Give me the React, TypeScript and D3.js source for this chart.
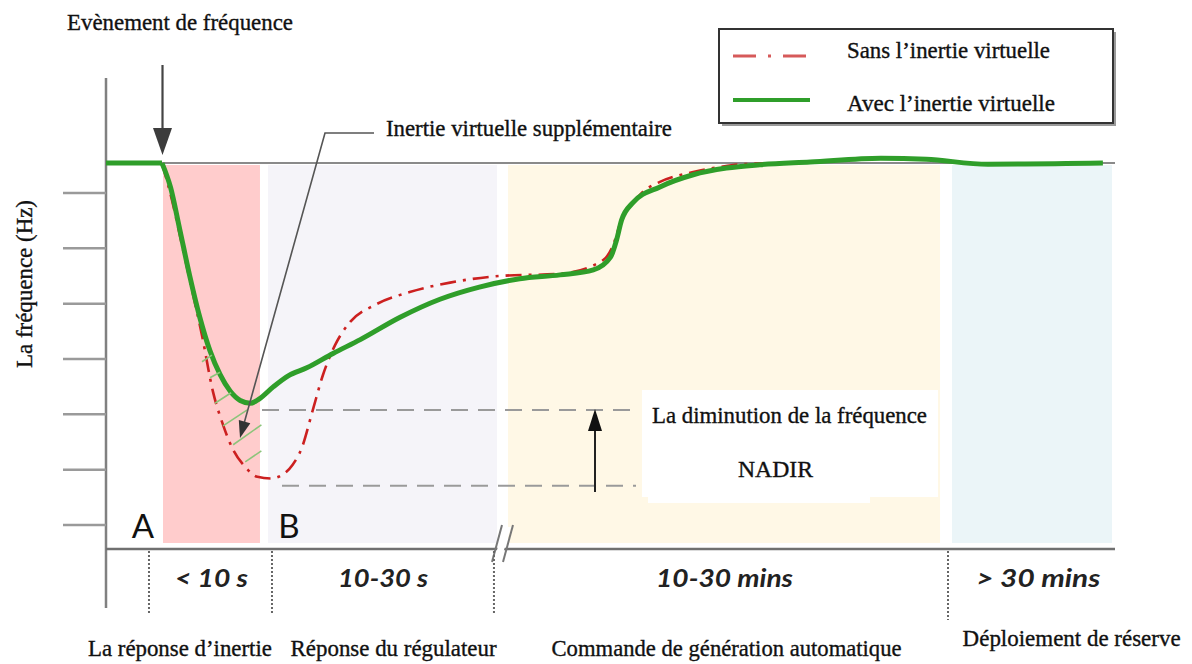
import React from 'react';
import * as d3 from 'd3';

// ---- data (time in arbitrary units 0..100, frequency in arbitrary grid units) ----
const nominalFreq = 7.54;
const eventTime = 5.6;
const preEventTime = [0, 5.55];

const timeWith = [5.55, 6.4, 7.3, 8.3, 9.3, 10.3, 11.3, 12.3, 13.3, 14.3, 15.2, 16.6, 18.1, 19.9, 22.5, 25.2, 29.1, 33.1, 37.0, 41.0, 45.0, 48.3, 50.0, 50.6, 51.1, 52.2, 54.9, 58.2, 61.5, 64.8, 69.8, 76.8, 81.3, 87.4, 98.8];
const freqWith = [7.54, 7.1, 6.35, 5.5, 4.75, 4.15, 3.72, 3.42, 3.25, 3.2, 3.28, 3.5, 3.7, 3.84, 4.1, 4.35, 4.75, 5.08, 5.3, 5.45, 5.52, 5.61, 5.84, 6.15, 6.51, 6.82, 7.11, 7.33, 7.45, 7.51, 7.56, 7.63, 7.61, 7.52, 7.54];

const timeWithout = [5.55, 6.54, 7.53, 8.52, 9.51, 10.6, 11.6, 12.6, 13.8, 15.0, 16.3, 17.5, 18.5, 19.4, 20.5, 21.5, 22.7, 24.2, 26.7, 30.1, 34.1, 39.0, 45.0, 49.3, 50.2, 51.2, 52.1, 53.2, 54.9, 58.2, 60.9, 63.1, 66.8];
const freqWithout = [7.54, 6.87, 6.06, 5.25, 4.43, 3.41, 2.81, 2.36, 2.05, 1.87, 1.84, 1.91, 2.09, 2.39, 3.08, 3.71, 4.25, 4.67, 4.98, 5.21, 5.38, 5.5, 5.54, 5.79, 6.03, 6.57, 6.79, 7.02, 7.2, 7.38, 7.47, 7.52, 7.54];

// hatch marks of the extra virtual inertia: [t1, f1, t2, f2]
const hatchMarks = [
  [9.51, 3.95, 10.5, 4.07],
  [10.3, 3.66, 11.3, 3.76],
  [10.8, 3.2, 12.4, 3.39],
  [11.6, 2.79, 14.0, 3.08],
  [12.6, 2.45, 15.4, 2.81],
  [13.8, 2.14, 15.4, 2.34],
];

const nadirWith = 3.08;
const nadirWithout = 1.71;

const yTicks = [1, 2, 3, 4, 5, 6, 7];

const phaseNames = ['La réponse d’inertie', 'Réponse du régulateur', 'Commande de génération automatique', 'Déploiement de réserve'];
const phaseDurations = ['< 10 s', '10-30 s', '10-30 mins', '> 30 mins'];
const bandStart = [5.65, 16.06, 39.84, 83.85];
const bandEnd = [15.26, 38.75, 82.66, 99.7];
const separators = [4.26, 16.45, 38.45, 83.45];
const durationCenters = [10.46, 27.45, 61.3, 92.4];
const phaseCenters = [7.33, 28.5, 61.5, 95.7];

const legendLabels = ['Sans l’inertie virtuelle', 'Avec l’inertie virtuelle'];

// ---- styles / layout ----
const bandColors = ['#FFCCCC', '#F5F4F9', '#FFF8E6', '#EBF5F8'];
const durationWidths = [73, 90, 137, 124];
const phaseWidths = [184, 206, 350, 218];
const phaseBaselines = [656, 656, 656, 646];
const GREEN = '#2f9e2a';
const RED = '#cc2020';
const SERIF = "'Liberation Serif', 'Times New Roman', serif";
const SANS = "Lato, 'Open Sans', sans-serif";
const serifStyle = { stroke: '#111', strokeWidth: 0.35 } as React.CSSProperties;

function arrowHead(tipX: number, tipY: number, fromX: number, fromY: number, len: number, half: number) {
  const dx = tipX - fromX, dy = tipY - fromY;
  const L = Math.hypot(dx, dy);
  const ux = dx / L, uy = dy / L;
  const bx = tipX - ux * len, by = tipY - uy * len;
  return `${tipX},${tipY} ${bx - uy * half},${by + ux * half} ${bx + uy * half},${by - ux * half}`;
}

export default function App() {
  const x = d3.scaleLinear().domain([0, 100]).range([106, 1115]);
  const y = d3.scaleLinear().domain([0, 8]).range([580.3, 137.66]);
  const line = d3.line<[number, number]>().x(d => x(d[0])).y(d => y(d[1])).curve(d3.curveMonotoneX);

  const greenPts = timeWith.map((t, i) => [t, freqWith[i]] as [number, number]);
  const redPts = timeWithout.map((t, i) => [t, freqWithout[i]] as [number, number]);
  const prePts = preEventTime.map(t => [t, nominalFreq] as [number, number]);

  const axisX = 106, axisRight = 1115, axisY = 549, bandTop = 165, bandBottom = 543;
  const nomY = y(nominalFreq);
  const ex = x(eventTime);

  const nadirArrowX = 595;

  return (
    <svg width={1192} height={664} style={{ position: 'absolute', left: 0, top: 0, background: '#fff' }}>
      {/* bands */}
      {bandStart.map((s, i) => (
        <rect key={'b' + i} x={x(s)} y={bandTop} width={x(bandEnd[i]) - x(s)} height={bandBottom - bandTop} fill={bandColors[i]} />
      ))}

      {/* nominal line */}
      <line x1={axisX} x2={axisRight} y1={nomY} y2={nomY} stroke="#8a8a8a" strokeWidth={2} />

      {/* y axis */}
      <line x1={axisX} x2={axisX} y1={78} y2={608} stroke="#808080" strokeWidth={2.5} />
      {yTicks.map(v => (
        <line key={'t' + v} x1={63} x2={axisX} y1={y(v)} y2={y(v)} stroke="#9a9a9a" strokeWidth={2.5} />
      ))}
      {/* x axis */}
      <line x1={axisX} x2={axisRight} y1={axisY} y2={axisY} stroke="#707070" strokeWidth={2.5} />
      {/* axis break */}
      <polygon points="494,560 504,527 511,527 501,560" fill="#fff" />
      <line x1={492} y1={562} x2={502} y2={525} stroke="#777" strokeWidth={2} />
      <line x1={503} y1={562} x2={513} y2={525} stroke="#777" strokeWidth={2} />

      {/* separators */}
      {separators.map((s, i) => (
        <line key={'s' + i} x1={x(s)} x2={x(s)} y1={551} y2={i === 3 ? 620 : 613} stroke="#666" strokeWidth={2} strokeDasharray="2 2" />
      ))}

      {/* nadir dashed lines */}
      <line x1={262} x2={636} y1={y(nadirWith)} y2={y(nadirWith)} stroke="#9a9a9a" strokeWidth={2} strokeDasharray="17 10" />
      <line x1={282} x2={636} y1={y(nadirWithout)} y2={y(nadirWithout)} stroke="#9a9a9a" strokeWidth={2} strokeDasharray="17 10" />

      {/* white text box */}
      <rect x={642} y={390} width={296} height={107} fill="#fff" />
      <rect x={648} y={495} width={222} height={8} fill="#fff" />

      {/* nadir arrow */}
      <line x1={nadirArrowX} x2={nadirArrowX} y1={492} y2={428} stroke="#222" strokeWidth={2} />
      <polygon points={arrowHead(nadirArrowX, y(nadirWith) - 1, nadirArrowX, 492, 22, 7)} fill="#111" />

      {/* curves */}
      <path d={line(redPts) || ''} fill="none" stroke={RED} strokeWidth={2.6} strokeDasharray="16 7 3 7" />
      <path d={line(prePts) || ''} fill="none" stroke={GREEN} strokeWidth={5} />
      <path d={line(greenPts) || ''} fill="none" stroke={GREEN} strokeWidth={5} strokeLinejoin="round" />
      {hatchMarks.map((h, i) => (
        <line key={'h' + i} x1={x(h[0])} y1={y(h[1])} x2={x(h[2])} y2={y(h[3])} stroke="#8cc47a" strokeWidth={1.6} />
      ))}

      {/* leader line for extra inertia */}
      <polyline points={`374,133 325,133 ${240 + 0.268 * 14},${438 - 0.963 * 14}`} fill="none" stroke="#555" strokeWidth={1.6} />
      <polygon points={arrowHead(240, 438, 325, 133, 17, 6)} fill="#333" />

      {/* event arrow */}
      <line x1={ex} x2={ex} y1={65} y2={130} stroke="#444" strokeWidth={2.2} />
      <polygon points={arrowHead(ex, 155, ex, 65, 27, 9.5)} fill="#3c3c3c" />

      {/* A / B */}
      <text x={143} y={538} fontFamily={SANS} fontSize={33} textAnchor="middle" fill="#111">A</text>
      <text x={289} y={538} fontFamily={SANS} fontSize={33} textAnchor="middle" fill="#111">B</text>

      {/* durations */}
      {phaseDurations.map((d, i) => (
        <text key={'d' + i} x={x(durationCenters[i])} y={587} fontFamily={SANS} fontStyle="italic" fontWeight={700} fontSize={24}
          textAnchor="middle" textLength={durationWidths[i]} lengthAdjust="spacingAndGlyphs" fill="#222">{d}</text>
      ))}

      {/* phase names */}
      {phaseNames.map((p, i) => (
        <text key={'p' + i} x={x(phaseCenters[i])} y={phaseBaselines[i]} fontFamily={SERIF} fontSize={23} style={serifStyle}
          textAnchor="middle" textLength={phaseWidths[i]} lengthAdjust="spacingAndGlyphs" fill="#111">{p}</text>
      ))}

      {/* title */}
      <text x={67} y={30} fontFamily={SERIF} fontSize={24} style={serifStyle} textLength={226} lengthAdjust="spacingAndGlyphs" fill="#111">Evènement de fréquence</text>

      {/* y label */}
      <text transform="translate(32,284) rotate(-90)" fontFamily={SERIF} fontSize={23} textAnchor="middle" style={serifStyle}
        textLength={168} lengthAdjust="spacingAndGlyphs" fill="#111">La fréquence (Hz)</text>

      {/* annotation texts */}
      <text x={386} y={136} fontFamily={SERIF} fontSize={23} style={serifStyle} textLength={286} lengthAdjust="spacingAndGlyphs" fill="#111">Inertie virtuelle supplémentaire</text>
      <text x={652} y={423} fontFamily={SERIF} fontSize={23} style={serifStyle} textLength={275} lengthAdjust="spacingAndGlyphs" fill="#111">La diminution de la fréquence</text>
      <text x={738} y={477} fontFamily={SERIF} fontSize={23} style={serifStyle} textLength={75} lengthAdjust="spacingAndGlyphs" fill="#111">NADIR</text>

      {/* legend */}
      <rect x={722} y={32} width={394} height={94} fill="#9a9a9a" />
      <rect x={719} y={29} width={394} height={94} fill="#fff" stroke="#333" strokeWidth={2} />
      <line x1={733} x2={810} y1={56} y2={56} stroke="#d65a5a" strokeWidth={3} strokeDasharray="23 12 3 12" />
      <line x1={733} x2={810} y1={100} y2={100} stroke={GREEN} strokeWidth={4} />
      <text x={847} y={58} fontFamily={SERIF} fontSize={23} style={serifStyle} textLength={203} lengthAdjust="spacingAndGlyphs" fill="#111">{legendLabels[0]}</text>
      <text x={847} y={111} fontFamily={SERIF} fontSize={23} style={serifStyle} textLength={208} lengthAdjust="spacingAndGlyphs" fill="#111">{legendLabels[1]}</text>
    </svg>
  );
}
